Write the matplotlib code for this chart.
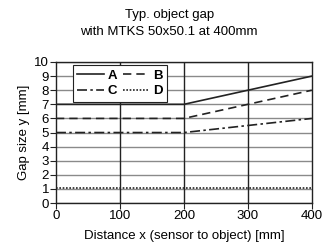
import matplotlib
matplotlib.use("Agg")
import matplotlib.pyplot as plt

plt.rcParams['font.family'] = ['Liberation Sans', 'DejaVu Sans']

x = [0, 200, 400]
A = [7, 7, 9]
B = [6, 6, 8]
C = [5, 5, 6]
D = [1.05, 1.05, 1.05]
xticks = [0, 100, 200, 300, 400]
yticks = list(range(0, 11))

fig = plt.figure(figsize=(3.35, 2.45), dpi=100)
ax = fig.add_axes([0.167, 0.171, 0.764, 0.576])

for y in yticks:
    ax.axhline(y, color='#8a8a8a', lw=1.0, zorder=1)
for xv in [100, 200, 300]:
    ax.axvline(xv, color='#222222', lw=1.0, zorder=1)

lA, = ax.plot(x, A, color='#222222', lw=1.2, ls='-', zorder=3)
lB, = ax.plot(x, B, color='#222222', lw=1.2, ls=(0, (5, 3)), zorder=3)
lC, = ax.plot(x, C, color='#222222', lw=1.2, ls=(0, (6, 2, 1.5, 2)), zorder=3)
lD, = ax.plot(x, D, color='#222222', lw=1.2, ls=(0, (1, 1)), zorder=3)

ax.set_xlim(0, 400)
ax.set_ylim(0, 10)
ax.set_xticks(xticks)
ax.set_yticks(yticks)
ax.tick_params(axis='both', labelsize=9.5, length=4, width=0.8, color='#222222', pad=1)
for s in ax.spines.values():
    s.set_color('#222222')
    s.set_linewidth(1.0)

ax.set_xlabel('Distance x (sensor to object) [mm]', fontsize=9.5, labelpad=6)
ax.set_ylabel('Gap size y [mm]', fontsize=9.5, labelpad=3)
fig.text(0.505, 0.94, 'Typ. object gap', ha='center', va='center', fontsize=9.5)
fig.text(0.505, 0.87, 'with MTKS 50x50.1 at 400mm', ha='center', va='center', fontsize=9.5)

leg = ax.legend([lA, lC, lB, lD], ['A', 'C', 'B', 'D'], ncol=2, loc='upper left',
                bbox_to_anchor=(0.066, 0.98), borderaxespad=0, fontsize=9.5,
                frameon=True, fancybox=False, edgecolor='#222222', framealpha=1,
                handlelength=2.0, handletextpad=0.3, columnspacing=0.4,
                borderpad=0.35, labelspacing=0.25)
leg.get_frame().set_linewidth(0.8)
for t in leg.get_texts():
    t.set_fontweight('bold')

fig.savefig('out.png', dpi=100)
